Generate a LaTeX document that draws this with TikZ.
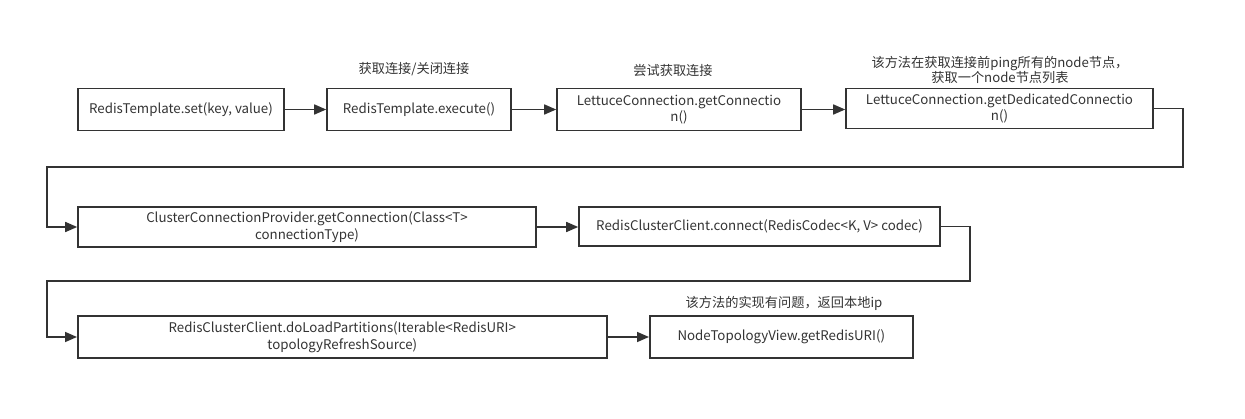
\documentclass[tikz,border=0pt]{standalone}
\usepackage{fontspec}
\setmainfont{Noto Sans CJK SC}
\usetikzlibrary{arrows.meta}
\definecolor{ln}{HTML}{333333}
\begin{document}
\begin{tikzpicture}[x=1pt,y=-1pt,
  box/.style={draw=ln,line width=1.6pt,inner sep=0pt,align=center,
    font=\fontsize{13.3}{16.6}\selectfont,text=ln},
  conn/.style={draw=ln,line width=1.6pt,-{Triangle[length=12pt,width=10pt]}},
  lbl/.style={font=\fontsize{13.2}{15}\selectfont,text=ln,align=center,inner sep=0pt}]
\useasboundingbox (0,0) rectangle (1245,419);
% row 1
\node[box,minimum width=206pt,minimum height=42pt] (b1) at (181,109.5) {RedisTemplate.set(key, value)};
\node[box,minimum width=184pt,minimum height=42pt] (b2) at (419,109.5) {RedisTemplate.execute()};
\node[box,minimum width=244pt,minimum height=42pt] (b3) at (679,109.5) {LettuceConnection.getConnectio\\n()};
\node[box,minimum width=307pt,minimum height=40pt] (b4) at (999.5,108.5) {LettuceConnection.getDedicatedConnectio\\n()};
% row 2
\node[box,minimum width=458pt,minimum height=40pt] (b5) at (307,227) {ClusterConnectionProvider.getConnection(Class<T>\\connectionType)};
\node[box,minimum width=361pt,minimum height=39pt] (b6) at (759.5,226.5) {RedisClusterClient.connect(RedisCodec<K, V> codec)};
% row 3
\node[box,minimum width=529pt,minimum height=42pt] (b7) at (342.3,337) {RedisClusterClient.doLoadPartitions(Iterable<RedisURI>\\topologyRefreshSource)};
\node[box,minimum width=263pt,minimum height=42pt] (b8) at (781.3,337) {NodeTopologyView.getRedisURI()};
% labels
\node[lbl] (l1) at (414,69) {获取连接/关闭连接};
\node[lbl] (l2) at (673,70) {尝试获取连接};
\node[lbl] (l3) at (1000,70) {该方法在获取连接前ping所有的node节点，\\获取一个node节点列表};
\node[lbl] (l4) at (784,303) {该方法的实现有问题，返回本地ip};
% bend points
\coordinate (c1) at (1183,167);
\coordinate (c2) at (47,167);
\coordinate (c3) at (970,281);
\coordinate (c4) at (47,281);
% connectors
\draw[conn] (b1.east) -- (b2.west);
\draw[conn] (b2.east) -- (b3.west);
\draw[conn] (b3.east) -- (b3.east -| b4.west);
\draw[conn] (b4.east) -| (c1) -- (c2) |- (b5.west);
\draw[conn] (b5.east) -- (b5.east -| b6.west);
\draw[conn] (b6.east) -| (c3) -- (c4) |- (b7.west);
\draw[conn] (b7.east) -- (b8.west);
\end{tikzpicture}
\end{document}
